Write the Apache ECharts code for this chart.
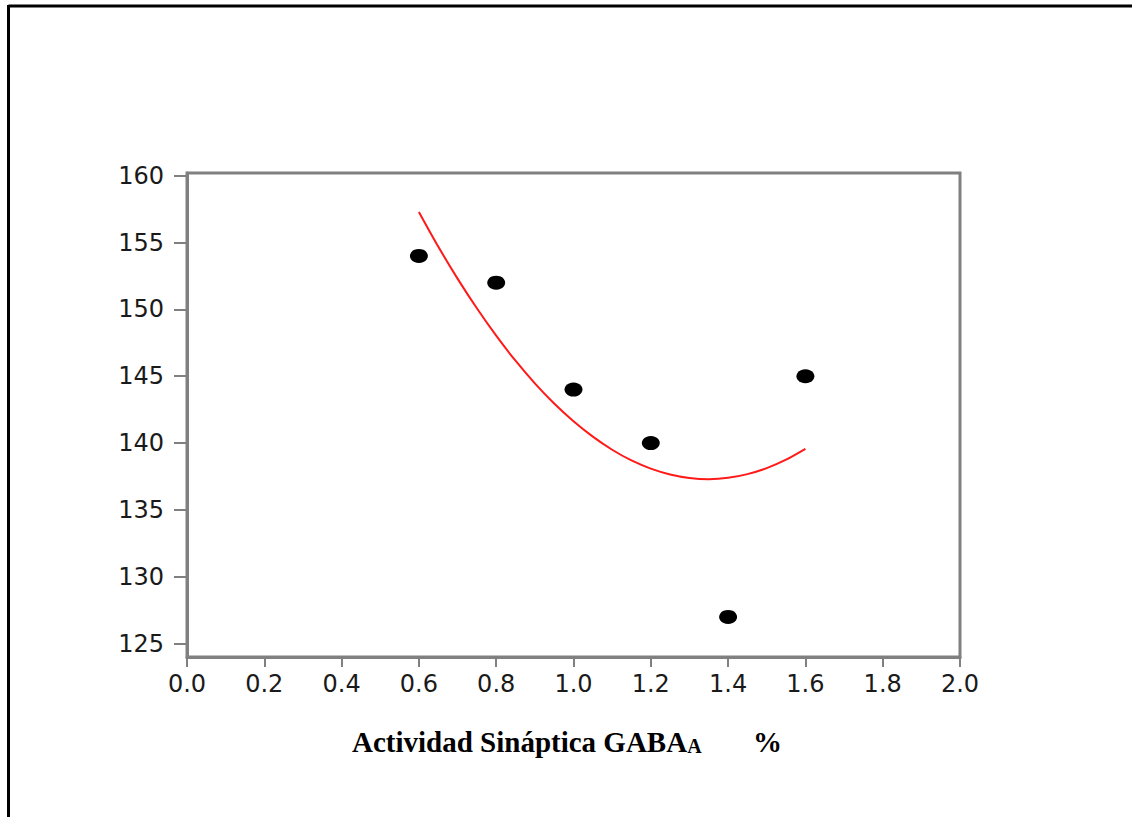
<!DOCTYPE html>
<html>
<head>
<meta charset="utf-8">
<script src="https://cdn.jsdelivr.net/npm/echarts@6/dist/echarts.min.js"></script>
<style>html,body{margin:0;padding:0;background:#fff;}#c{width:1132px;height:817px;}</style>
</head>
<body>
<div id="c"></div>
<script>
// Data
const pointX = [0.6, 0.8, 1.0, 1.2, 1.4, 1.6];
const pointY = [154, 152, 144, 140, 127, 145];
const curveX = [0.6, 0.65, 0.7, 0.75, 0.8, 0.85, 0.9, 0.95, 1.0, 1.05, 1.1, 1.15, 1.2, 1.25, 1.3, 1.35, 1.4, 1.45, 1.5, 1.55, 1.6];
const curveY = [157.29, 154.70, 152.30, 150.08, 148.03, 146.16, 144.47, 142.96, 141.63, 140.48, 139.50, 138.70, 138.09, 137.65, 137.39, 137.30, 137.40, 137.68, 138.13, 138.76, 139.57];
const yTicks = [125, 130, 135, 140, 145, 150, 155, 160];
const xTitle = 'Actividad Sináptica GABA';
const xTitleSub = 'A';
const xTitleUnit = '%';

const chart = echarts.init(document.getElementById('c'), null, {renderer: 'svg'});
const axisGray = '#808080';
const labelFont = {fontFamily: 'DejaVu Sans', fontSize: 24, color: '#1a1a1a'};

chart.setOption({
  animation: false,
  backgroundColor: '#fff',
  grid: {left: 187, right: 172, top: 173, bottom: 160, show: true, borderColor: axisGray, borderWidth: 3},
  xAxis: {
    type: 'value', min: 0, max: 2, interval: 0.2,
    axisLine: {show: true, lineStyle: {color: axisGray, width: 3}},
    axisTick: {show: true, length: 10, lineStyle: {color: axisGray, width: 2}},
    splitLine: {show: false},
    axisLabel: Object.assign({margin: 15, formatter: v => v.toFixed(1)}, labelFont)
  },
  yAxis: {
    type: 'value', min: 124, max: 160.2,
    axisLine: {show: true, lineStyle: {color: axisGray, width: 3}},
    axisTick: {show: true, length: 13, customValues: yTicks, lineStyle: {color: axisGray, width: 2}},
    splitLine: {show: false},
    axisLabel: Object.assign({margin: 23, customValues: yTicks}, labelFont)
  },
  series: [
    {
      type: 'line', smooth: 0.3, symbol: 'none',
      data: curveX.map((x, i) => [x, curveY[i]]),
      lineStyle: {color: '#ff1a1a', width: 2}, z: 2
    },
    {
      type: 'scatter', symbol: 'circle', symbolSize: [18, 14],
      data: pointX.map((x, i) => [x, pointY[i]]),
      itemStyle: {color: '#000', opacity: 1}, z: 3
    }
  ],
  graphic: [
    {type: 'line', shape: {x1: 8.5, y1: 6, x2: 1132, y2: 6}, style: {stroke: '#000', lineWidth: 3}},
    {type: 'line', shape: {x1: 8.5, y1: 5, x2: 8.5, y2: 817}, style: {stroke: '#000', lineWidth: 3}},
    {type: 'text', left: 352, top: 727, style: {
      text: '{b|' + xTitle + '}{s|' + xTitleSub + '}',
      rich: {
        b: {fontFamily: 'Liberation Serif', fontWeight: 'bold', fontSize: 29, fill: '#000', verticalAlign: 'bottom'},
        s: {fontFamily: 'Liberation Serif', fontWeight: 'bold', fontSize: 20, fill: '#000', verticalAlign: 'bottom'}
      }
    }},
    {type: 'text', left: 753, top: 727, style: {text: xTitleUnit, fontFamily: 'Liberation Serif', fontWeight: 'bold', fontSize: 29, fill: '#000'}}
  ]
});
</script>
</body>
</html>
